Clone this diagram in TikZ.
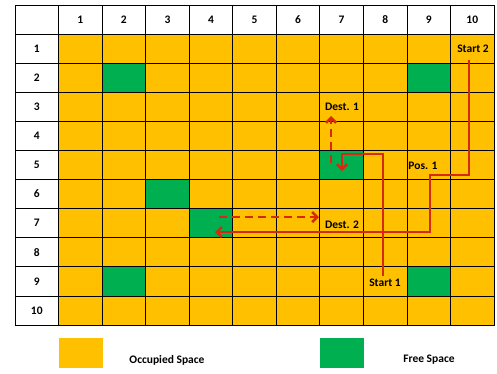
\documentclass[tikz,border=0pt]{standalone}
\usepackage{fontspec}
\setmainfont{Carlito}
\usetikzlibrary{arrows.meta}
\definecolor{Occupied}{RGB}{255,192,0}
\definecolor{Free}{RGB}{0,176,80}
\definecolor{PathRed}{RGB}{214,42,16}

\begin{document}
\begin{tikzpicture}[
  x=1pt, y=-1pt,
  cell/.style={
    rectangle,
    draw=black,
    line width=0.8pt,
    minimum width=43.55pt,
    minimum height=29.09pt,
    inner sep=0pt,
    font=\bfseries\fontsize{11.5}{13}\selectfont
  },
  occupied/.style={cell, fill=Occupied},
  free/.style={cell, fill=Free},
  header/.style={cell, fill=white},
  legendbox/.style={rectangle, inner sep=0pt, minimum width=44pt, minimum height=30pt},
  route/.style={PathRed, line width=2.6pt, -{Straight Barb[length=5pt,width=10pt]}},
  plan/.style={route, dash pattern=on 8pt off 5pt},
  tag/.style={font=\bfseries\fontsize{11.5}{13}\selectfont, inner sep=1pt}
]
\useasboundingbox (0,0) rectangle (497,373);

% header row and column
\node[header] (h0-0) at ({15+43.55*0.5},{5+29.09*0.5}) {};
\foreach \i in {1,...,10} {
  \node[header] (h0-\i) at ({15+43.55*(\i+0.5)},{5+29.09*0.5}) {\i};
  \node[header] (h\i-0) at ({15+43.55*0.5},{5+29.09*(\i+0.5)}) {\i};
}

% cells
\foreach \r in {1,...,10}
  \foreach \c in {1,...,10}
    \node[occupied] (c\r-\c) at ({15+43.55*(\c+0.5)},{5+29.09*(\r+0.5)}) {};
\foreach \r/\c in {2/2, 2/9, 5/7, 6/3, 7/4, 9/2, 9/9}
  \node[free] at (c\r-\c) {};

% route points
\coordinate (start2) at (469,60);
\coordinate (pos1) at (430,175);
\coordinate (back2) at (215,232);
\coordinate (start1) at (383,276);
\coordinate (turn1) at (342,154);
\coordinate (back1) at (342,171);
\coordinate (plan1a) at (331,163);
\coordinate (dest1) at (331,116);
\coordinate (plan2a) at (219,217);
\coordinate (dest2) at (319,217);

% routes
\draw[route] (start2) |- (pos1) |- (back2);
\draw[route] (start1) |- (turn1) -- (back1);
\draw[plan] (plan1a) -- (dest1);
\draw[plan] (plan2a) -- (dest2);

% labels
\node[tag] (l-dest1) at (342,107) {Dest. 1};
\node[tag] (l-dest2) at (342,225) {Dest. 2};
\node[tag] (l-pos1) at (423,166) {Pos. 1};
\node[tag] (l-start1) at (385,283) {Start 1};
\node[tag] (l-start2) at (473,49) {Start 2};

% legend
\node[legendbox, fill=Occupied] (leg-occ) at (81,353) {};
\node[tag] (leg-occ-text) at (167,360) {Occupied Space};
\node[legendbox, fill=Free] (leg-free) at (342,353) {};
\node[tag] (leg-free-text) at (429,360) {Free Space};
\end{tikzpicture}
\end{document}
